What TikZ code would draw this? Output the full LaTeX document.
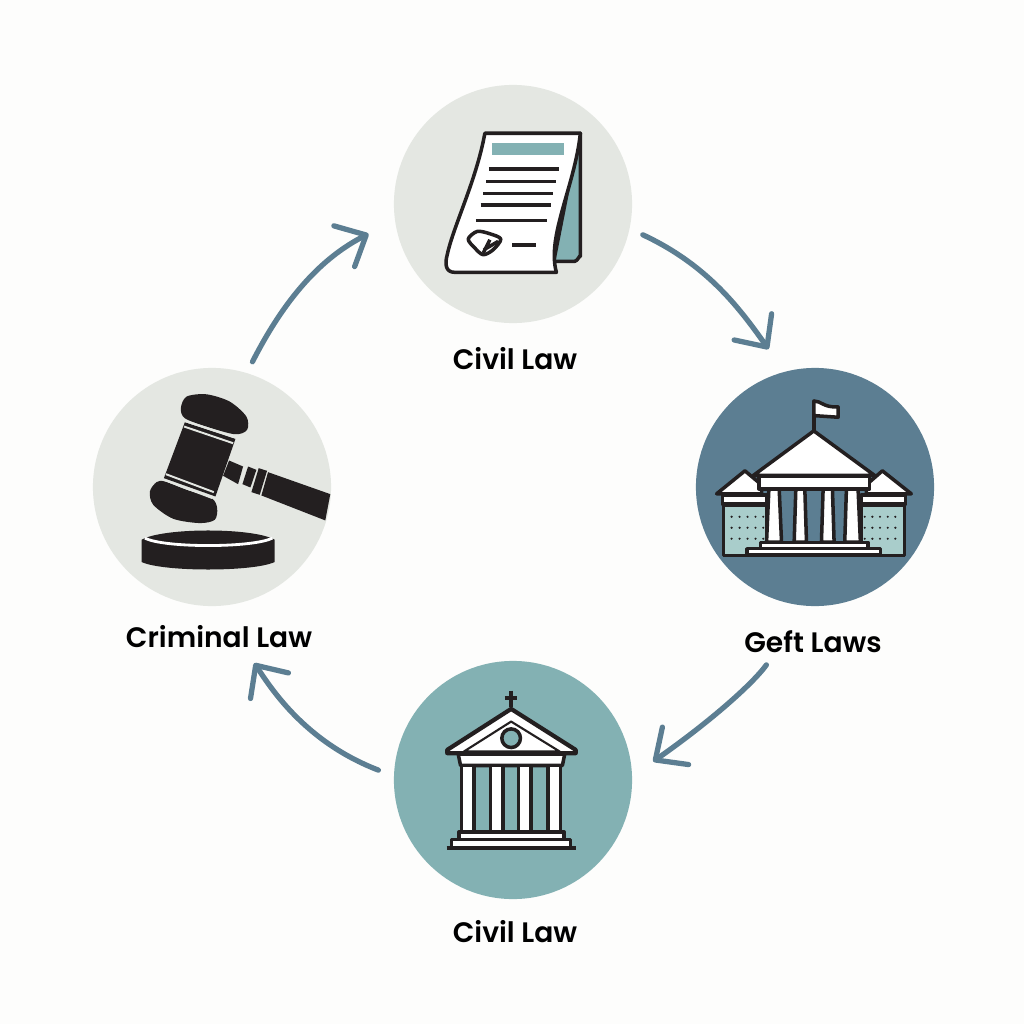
\documentclass[tikz,border=0pt]{standalone}
\usepackage{fontspec}
\setmainfont{Poppins}[BoldFont={Poppins SemiBold}]
\usepackage{tikz}
\usetikzlibrary{calc,arrows.meta}
\definecolor{paper}{HTML}{FDFDFC}
\definecolor{pale}{HTML}{E4E7E2}
\definecolor{slate}{HTML}{5C7E92}
\definecolor{teal}{HTML}{83B1B3}
\definecolor{mint}{HTML}{A9CDCB}
\definecolor{ink}{HTML}{231F20}
\tikzset{
    >={Straight Barb[length=7pt,width=13pt,round]},
    disc/.style={circle, minimum size=2.38cm, inner sep=0pt},
    caption/.style={font={\fontsize{8pt}{10}\selectfont\bfseries}, text=black, inner sep=0pt},
    loopline/.style={->, draw=slate, line width=1.5pt, line cap=round},
    outline/.style={draw=ink, line width=1pt, line join=round},
    bar/.style={draw=ink, line width=1pt},
    cut/.style={draw=pale, line width=0.55pt},
    zoomgrid/.style={x=0.003333cm, y=-0.003333cm},
}
\begin{document}
\begin{tikzpicture}[x=0.01cm, y=-0.01cm]
\fill[paper] (0,0) rectangle (1024,1024);
\useasboundingbox (0,0) rectangle (1024,1024);

\node(Doc) at (513,204)[disc, fill=pale]{};
\node(Gov) at (815,487)[disc, fill=slate]{};
\node(Temple) at (513,780)[disc, fill=teal]{};
\node(Crim) at (212,487)[disc, fill=pale]{};

\node(DocText) at (515,359)[caption]{Civil Law};
\node(GovText) at (813,642)[caption]{Geft Laws};
\node(TempleText) at (515,932)[caption]{Civil Law};
\node(CrimText) at (219,637)[caption]{Criminal Law};

% arrows round the ring
\draw[loopline, shorten <=.12cm, shorten >=.29cm] (Crim.73) to[out=63,in=207] (Doc.188);
\draw[loopline, shorten <=.14cm, shorten >=.27cm] (Doc.-12.6) to[out=-25,in=125] (Gov.105);
\draw[loopline, shorten <=.72cm, shorten >=.25cm] (Gov.-93.6) to[out=-126,in=35] (Temple.2.7);
\draw[loopline, shorten <=.16cm, shorten >=.68cm] (Temple.178) to[out=159,in=-56] (Crim.-88.5);

% document
\begin{scope}[shift={(390,80)}, zoomgrid]
\filldraw[fill=teal, outline] (572,160) -- (572,530) to[out=90,in=0] (555,545) -- (492,545) -- (540,300) -- cycle;
\filldraw[fill=white, outline] (285,160) -- (572,160) .. controls (555,320) and (470,470) .. (500,578) -- (195,578) .. controls (165,578) and (165,550) .. (172,525) .. controls (190,440) and (260,300) .. cycle;
\fill[teal] (305,190) rectangle (522,225);
\foreach \xa/\xb/\ya in {297/508/268, 289/499/305, 280/491/341, 272/483/376, 258/471/422, 367/438/496}
    \draw[bar] (\xa,\ya) -- (\xb,\ya);
\draw[outline, fill=white] plot[smooth cycle] coordinates {(235,478) (262,455) (300,462) (333,478) (310,510) (280,525) (255,505)};
\draw[outline] (280,520) -- (300,480) (282,510) -- (325,485);
\end{scope}

% court building
\begin{scope}[shift={(690,365)}, zoomgrid]
\filldraw[fill=mint, outline] (100,420) rectangle (230,572);
\filldraw[fill=mint, outline] (515,420) rectangle (645,572);
\foreach \ya in {456,489,522} {
    \foreach \xa in {125,149,173,197,220}
        \fill[ink] (\xa,\ya) circle (3.5);
    \foreach \xa in {525,548,571,594,617}
        \fill[ink] (\xa,\ya) circle (3.5);
}
\filldraw[fill=white, outline] (97,390) rectangle (230,418);
\filldraw[fill=white, outline] (515,390) rectangle (648,418);
\filldraw[fill=white, outline] (80,387) -- (165,318) -- (215,360) -- (215,387) -- cycle;
\filldraw[fill=white, outline] (665,387) -- (578,318) -- (530,360) -- (530,387) -- cycle;
\fill[slate] (230,372) rectangle (510,535);
\foreach \xa/\xb/\xc/\xd in {237/268/275/230, 318/345/350/313, 400/428/433/395, 470/505/512/465}
    \filldraw[fill=white, outline] (\xa,372) -- (\xb,372) -- (\xc,532) -- (\xd,532) -- cycle;
\filldraw[fill=white, outline] (372,198) -- (555,332) -- (190,332) -- cycle;
\filldraw[fill=white, outline] (207,335) rectangle (540,372);
\filldraw[fill=white, outline] (212,533) rectangle (535,552);
\filldraw[fill=white, outline] (172,552) rectangle (572,570);
\draw[outline] (100,572) -- (645,572);
\draw[outline] (372,198) -- (372,108);
\filldraw[fill=white, outline] (372,108) .. controls (395,108) and (400,128) .. (445,126) -- (445,157) -- (372,152) -- cycle;
\end{scope}

% temple
\begin{scope}[shift={(390,660)}, zoomgrid]
\draw[bar, line width=1.2pt] (364,92) -- (364,142) (345,115) -- (383,115);
\filldraw[fill=white, outline, line width=1.2pt] (364,147) -- (558,270) -- (558,280) -- (172,280) -- (172,270) -- cycle;
\draw[outline, line width=0.6pt] (364,185) -- (510,275) -- (222,275) -- cycle;
\filldraw[fill=teal, outline] (364,235) circle (28);
\filldraw[fill=white, outline] (205,283) -- (525,283) -- (518,317) -- (212,317) -- cycle;
\foreach \xa/\xb in {215/252, 302/340, 386/424, 474/512}
    \filldraw[fill=white, outline] (\xa,317) rectangle (\xb,517);
\filldraw[fill=white, outline] (207,517) rectangle (523,540);
\filldraw[fill=white, outline] (185,540) rectangle (543,565);
\draw[bar, line width=1.2pt] (170,566) -- (560,566);
\end{scope}

% gavel
\begin{scope}[shift={(90,365)}, zoomgrid]
\fill[ink] (285,172) -- (437,222) -- (377,395) -- (222,340) -- cycle;
\fill[ink] plot[smooth cycle] coordinates {(290,95) (350,88) (420,110) (470,155) (472,195) (435,208) (350,185) (285,160) (273,130)};
\fill[ink] plot[smooth cycle] coordinates {(200,352) (180,380) (190,420) (250,462) (330,475) (375,465) (382,430) (365,400) (290,375) (225,350)};
\draw[cut] (285,168) -- (437,218) (283,185) -- (430,235);
\draw[cut] (228,328) -- (372,382) (222,345) -- (368,400);
\fill[ink] (418,287) -- (460,305) -- (445,358) -- (400,333) -- cycle;
\fill[ink] (475,305) -- (500,315) -- (482,368) -- (458,358) -- cycle;
\fill[ink] (507,310) -- (532,318) -- (510,390) -- (485,382) -- cycle;
\fill[ink] (535,322) -- (722,388) -- (707,467) -- (515,392) -- cycle;
\fill[ink] (155,525) -- (155,592) .. controls (220,622) and (490,622) .. (555,592) -- (555,525) .. controls (490,488) and (220,488) .. cycle;
\draw[white, line width=0.8pt] (165,520) .. controls (220,550) and (490,550) .. (548,520);
\end{scope}
\end{tikzpicture}
\end{document}
